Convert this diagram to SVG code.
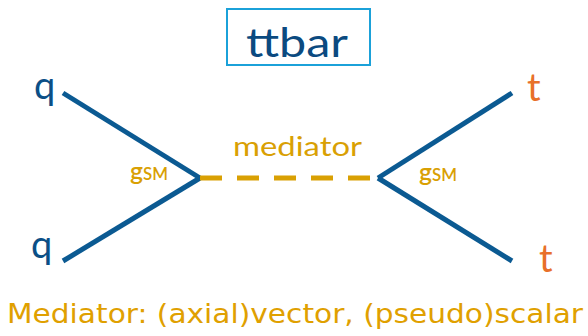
<svg xmlns="http://www.w3.org/2000/svg" width="588" height="336" viewBox="0 0 588 336">
  <style>
    .fermion { stroke: #0b5a92; stroke-width: 5; fill: none; stroke-linecap: butt; }
    .mediator { stroke: #d9a003; stroke-width: 5; fill: none; stroke-dasharray: 22 15; }
    .gold { fill: #d9a003; font-family: Lato, "Open Sans", sans-serif; }
    .quark { fill: #0b4f86; font-family: Lato, "Open Sans", sans-serif; font-size: 38px; }
    .top { fill: #e8702a; font-family: Lato, "Open Sans", sans-serif; font-size: 38px; }
  </style>
  <rect width="588" height="336" fill="#ffffff"/>

  <g id="title">
    <rect x="227" y="9" width="143" height="56" fill="none" stroke="#1ba1d9" stroke-width="2"/>
    <text x="246" y="57" font-family="Lato, 'Open Sans', sans-serif" font-size="40" fill="#0b4a80" textLength="102" lengthAdjust="spacingAndGlyphs">ttbar</text>
  </g>

  <g id="connectors">
    <line class="fermion" x1="63" y1="93" x2="200" y2="178"/>
    <line class="fermion" x1="63" y1="261" x2="200" y2="178"/>
    <line class="fermion" x1="512" y1="93" x2="378" y2="178"/>
    <line class="fermion" x1="512" y1="261" x2="378" y2="178"/>
    <line class="mediator" x1="200" y1="178" x2="378" y2="178"/>
  </g>

  <g id="quark-in-1"><text class="quark" x="34" y="99">q</text></g>
  <g id="quark-in-2"><text class="quark" x="31" y="258">q</text></g>
  <g id="top-out-1"><text class="top" x="527" y="101">t</text></g>
  <g id="top-out-2"><text class="top" x="539" y="272">t</text></g>

  <g id="vertex-left">
    <text class="gold" x="130" y="180" font-size="25" font-weight="600" textLength="38" lengthAdjust="spacingAndGlyphs">g<tspan font-size="17">SM</tspan></text>
  </g>
  <g id="vertex-right">
    <text class="gold" x="419" y="181" font-size="25" font-weight="600" textLength="38" lengthAdjust="spacingAndGlyphs">g<tspan font-size="17">SM</tspan></text>
  </g>

  <g id="mediator-label">
    <text class="gold" x="233" y="156" font-size="27" textLength="129" lengthAdjust="spacingAndGlyphs">mediator</text>
  </g>

  <g id="caption">
    <text x="7" y="323" font-family="'DejaVu Sans', Verdana, sans-serif" font-size="26" fill="#e0a000" textLength="576" lengthAdjust="spacingAndGlyphs">Mediator: (axial)vector, (pseudo)scalar</text>
  </g>
</svg>
